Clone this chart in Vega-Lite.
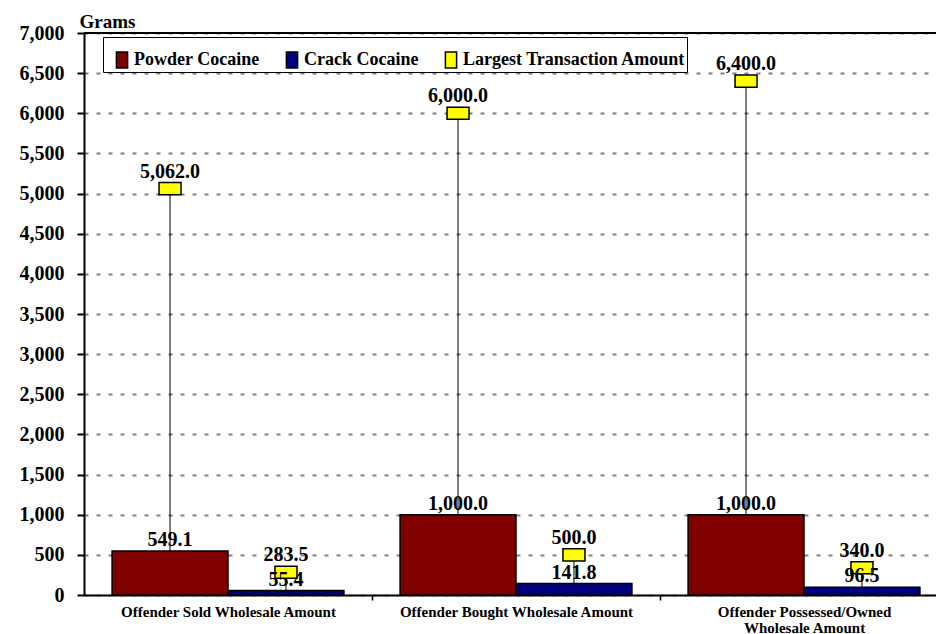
{
  "$schema": "https://vega.github.io/schema/vega-lite/v6.json",
  "autosize": {"type": "none"},
  "padding": {"left": 84, "top": 33, "right": 0, "bottom": 39},
  "width": 852,
  "height": 562,
  "background": "white",
  "data": {
    "values": [
      {"category": "Offender Sold Wholesale Amount", "series": "Powder Cocaine", "value": 549.1, "max": 5062.0},
      {"category": "Offender Sold Wholesale Amount", "series": "Crack Cocaine", "value": 55.4, "max": 283.5},
      {"category": "Offender Bought Wholesale Amount", "series": "Powder Cocaine", "value": 1000.0, "max": 6000.0},
      {"category": "Offender Bought Wholesale Amount", "series": "Crack Cocaine", "value": 141.8, "max": 500.0},
      {"category": "Offender Possessed/Owned Wholesale Amount", "series": "Powder Cocaine", "value": 1000.0, "max": 6400.0},
      {"category": "Offender Possessed/Owned Wholesale Amount", "series": "Crack Cocaine", "value": 96.5, "max": 340.0}
    ]
  },
  "encoding": {
    "y": {
      "type": "quantitative",
      "scale": {"domain": [0, 7000], "nice": false},
      "axis": {"values": [0, 500, 1000, 1500, 2000, 2500, 3000, 3500, 4000, 4500, 5000, 5500, 6000, 6500, 7000], "format": ",d", "title": "Grams"}
    }
  },
  "layer": [
    {
      "encoding": {
        "x": {
          "field": "category", "type": "nominal", "sort": null,
          "scale": {"type": "band", "range": [0, 864], "paddingInner": 0.195, "paddingOuter": 0.0975},
          "axis": {
            "title": null, "labelAngle": 0, "labelLimit": 0,
            "labelExpr": "datum.label == 'Offender Possessed/Owned Wholesale Amount' ? ['Offender Possessed/Owned', 'Wholesale Amount'] : datum.label",
            "tickOffset": 144, "labelOffset": -144
          }
        },
        "xOffset": {"field": "series", "type": "nominal", "sort": ["Powder Cocaine", "Crack Cocaine"], "scale": {"paddingInner": 0, "paddingOuter": 0}}
      },
      "layer": [
        {
          "mark": {"type": "bar", "stroke": "black", "strokeWidth": 1.5, "opacity": 1},
          "encoding": {
            "y": {"field": "value", "type": "quantitative"},
            "color": {
              "field": "series", "type": "nominal",
              "scale": {"domain": ["Powder Cocaine", "Crack Cocaine", "Largest Transaction Amount"], "range": ["#800000", "#000080", "#FFFF00"]},
              "legend": {"title": " "}
            }
          }
        },
        {
          "mark": {"type": "rule", "color": "black", "strokeWidth": 1},
          "encoding": {
            "y": {"field": "value", "type": "quantitative"},
            "y2": {"field": "max"}
          }
        },
        {
          "mark": {"type": "point", "filled": true, "shape": "M-1,-0.55L1,-0.55L1,0.55L-1,0.55Z", "size": 484, "stroke": "black", "strokeWidth": 1.5, "opacity": 1},
          "encoding": {
            "y": {"field": "max", "type": "quantitative"},
            "color": {"datum": "Largest Transaction Amount"}
          }
        },
        {
          "mark": {"type": "text", "baseline": "alphabetic", "dy": -5, "font": "Liberation Serif", "fontSize": 20, "fontWeight": "bold", "color": "black"},
          "encoding": {
            "y": {"field": "value", "type": "quantitative"},
            "text": {"field": "value", "type": "quantitative", "format": ",.1f"}
          }
        },
        {
          "mark": {"type": "text", "baseline": "alphabetic", "dy": -11, "font": "Liberation Serif", "fontSize": 20, "fontWeight": "bold", "color": "black"},
          "encoding": {
            "y": {"field": "max", "type": "quantitative"},
            "text": {"field": "max", "type": "quantitative", "format": ",.1f"}
          }
        }
      ]
    },
    {
      "mark": {"type": "rule", "color": "black", "strokeWidth": 2},
      "encoding": {"y": {"datum": 7000}}
    }
  ],
  "config": {
    "view": {"stroke": null},
    "font": "Liberation Serif",
    "axis": {
      "domainColor": "black", "domainWidth": 2,
      "tickColor": "black",
      "labelFont": "Liberation Serif", "labelFontWeight": "bold", "labelColor": "black",
      "titleFont": "Liberation Serif", "titleFontWeight": "bold", "titleColor": "black"
    },
    "axisX": {"tickSize": 5, "tickWidth": 1.5, "labelFontSize": 15, "labelPadding": 4, "labelLineHeight": 16, "grid": false},
    "axisY": {
      "tickSize": 7, "tickWidth": 2, "labelFontSize": 20, "labelPadding": 13, "labelBaseline": "middle",
      "grid": true, "gridColor": "#808080", "gridDash": [4, 8], "gridWidth": 2,
      "titleAngle": 0, "titleAlign": "left", "titleBaseline": "alphabetic", "titleX": -5, "titleY": -6, "titleFontSize": 19
    },
    "legend": {
      "orient": "none", "legendX": 19, "legendY": 4, "direction": "horizontal",
      "strokeColor": "black", "fillColor": "white", "padding": 1,
      "titleFontSize": 1, "titlePadding": 12, "titleFont": "Liberation Serif",
      "labelFont": "Liberation Serif", "labelFontSize": 18, "labelFontWeight": "bold", "labelColor": "black", "labelLimit": 400,
      "symbolType": "M-0.7,-1L0.7,-1L0.7,1L-0.7,1Z", "symbolSize": 256,
      "symbolStrokeColor": "black", "symbolStrokeWidth": 1.5, "symbolOpacity": 1,
      "symbolOffset": 9, "labelOffset": 3,
      "columnPadding": 14
    }
  }
}
